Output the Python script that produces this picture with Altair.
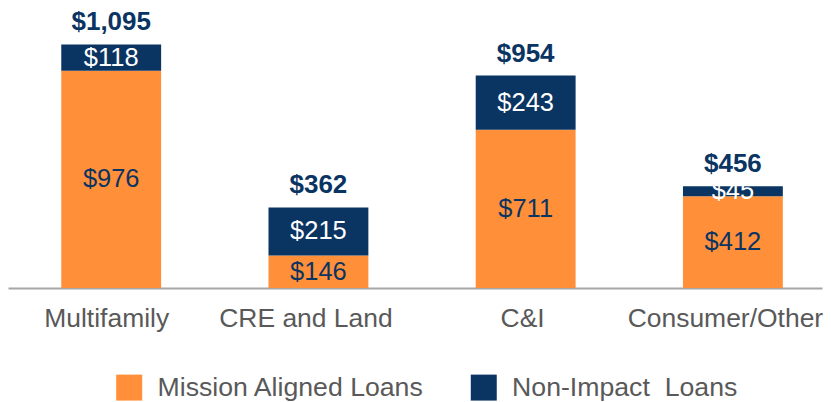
import altair as alt
import pandas as pd

categories = ["Multifamily", "CRE and Land", "C&I", "Consumer/Other"]
mission = [976, 146, 711, 412]
non_impact = [118, 215, 243, 45]
totals = [1095, 362, 954, 456]
series_names = ["Mission Aligned Loans", "Non-Impact\u00a0 Loans"]

ORANGE = "#FF8F38"
NAVY = "#0A3462"
GRAY = "#595959"
FONT = "Liberation Sans"

# small per-label horizontal nudges of the category labels (style only)
LABEL_NUDGE = [-5, -13, -3.5, -8]

rows = []
for i, c in enumerate(categories):
    rows.append({"category": c, "idx": i, "series": series_names[0], "value": mission[i], "order": 0})
    rows.append({"category": c, "idx": i, "series": series_names[1], "value": non_impact[i], "order": 1})
df = pd.DataFrame(rows)
tot_df = pd.DataFrame({"category": categories, "idx": list(range(len(categories))), "total": totals})

label_expr = "[" + ",".join("'" + c + "'" for c in categories) + "][datum.value]"
label_offset = {
    "condition": [{"test": f"datum.value === {i}", "value": v} for i, v in enumerate(LABEL_NUDGE)],
    "value": 0,
}

x_enc = alt.X(
    "idx:Q",
    scale=alt.Scale(domain=[-0.498, 3.430], nice=False, zero=False, padding=0),
    axis=alt.Axis(
        title=None, values=list(range(len(categories))), labelExpr=label_expr,
        labelAngle=0, ticks=False, grid=False, domainColor="#A6A6A6", domainWidth=2,
        labelFontSize=26.5, labelColor=GRAY, labelFont=FONT, labelPadding=18,
        labelLimit=400, labelOverlap=False, labelFlush=False,
        labelOffset=label_offset,
    ),
)
y_scale = alt.Scale(domain=[0, 1256.6], nice=False, zero=True, padding=0)

bars = alt.Chart(df).mark_bar(size=100).encode(
    x=x_enc,
    y=alt.Y("value:Q", stack="zero", scale=y_scale, axis=None),
    color=alt.Color(
        "series:N",
        scale=alt.Scale(domain=series_names, range=[ORANGE, NAVY]),
        legend=alt.Legend(
            title=None, orient="none", legendX=108, legendY=366, direction="horizontal",
            symbolType="square", symbolSize=676, symbolStrokeWidth=0, symbolOpacity=1,
            labelFontSize=26.7, labelColor=GRAY, labelFont=FONT, labelOffset=15,
            columnPadding=46, padding=0, symbolOffset=0, labelLimit=400,
        ),
    ),
    order=alt.Order("order:Q"),
)

seg_text = (
    alt.Chart(df)
    .transform_stack(stack="value", groupby=["category"], as_=["y0", "y1"], sort=[alt.SortField("order")])
    .transform_calculate(mid="(datum.y0 + datum.y1) / 2", label="'$' + format(datum.value, ',')")
    .mark_text(font=FONT, fontSize=25.5, baseline="middle")
    .encode(
        x=x_enc,
        y=alt.Y("mid:Q", scale=y_scale, axis=None),
        text="label:N",
        color=alt.condition(alt.datum.order == 0, alt.value(NAVY), alt.value("white")),
    )
)

tot_text = (
    alt.Chart(tot_df)
    .transform_calculate(label="'$' + format(datum.total, ',')")
    .mark_text(font=FONT, fontSize=26, fontWeight="bold", baseline="middle", dy=-22, color=NAVY)
    .encode(
        x=x_enc,
        y=alt.Y("total:Q", scale=y_scale, axis=None),
        text="label:N",
    )
)

chart = (
    alt.layer(bars, seg_text, tot_text)
    .properties(width=815, height=280, padding=0, background="white")
    .configure_view(stroke=None)
)

chart.save("out.html", embed_options={"renderer": "svg", "actions": False})
